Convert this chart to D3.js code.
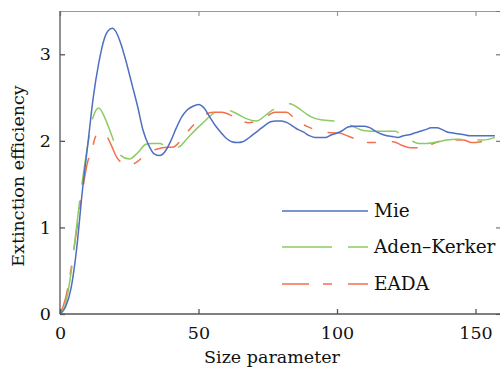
<!DOCTYPE html>
<html><head><meta charset="utf-8">
<script src="https://cdn.jsdelivr.net/npm/d3@7"></script>
<style>body{margin:0;background:#fff}svg{display:block}text{font-family:"DejaVu Serif",serif;fill:#111}</style>
</head><body><svg id="c" width="500" height="368"></svg>
<script>
const xTicks=[0,50,100,150];
const yTicks=[0,1,2,3];
const seriesNames=["Mie","Aden\u2013Kerker","EADA"];
const mieX=[0,2,4,6,8,10,12,14,16,18,19,20,22,24,26,28,30,32,34,36,38,40,42,44,46,48,50,52,54,56,58,60,62,64,66,68,70,72,74,76,78,80,82,84,86,88,90,92,94,96,98,100,102,104,106,108,110,112,114,116,118,120,122,124,126,128,130,132,134,136,138,140,142,144,146,148,150,152,154,157];
const mieY=[0,0.08,0.3,0.75,1.4,1.95,2.5,2.9,3.18,3.29,3.30,3.27,3.12,2.9,2.65,2.4,2.12,1.95,1.85,1.83,1.88,2.0,2.15,2.28,2.36,2.40,2.42,2.38,2.28,2.18,2.10,2.03,1.99,1.98,1.99,2.03,2.08,2.13,2.18,2.22,2.23,2.23,2.21,2.17,2.13,2.10,2.06,2.04,2.04,2.04,2.07,2.09,2.12,2.16,2.17,2.17,2.17,2.15,2.11,2.08,2.06,2.05,2.04,2.06,2.07,2.09,2.11,2.13,2.15,2.15,2.13,2.10,2.09,2.08,2.07,2.06,2.06,2.06,2.06,2.06];
const akX=[0,2,4,5,7,8,10,12,14,16,18,20,22,25,28,31,33,36,38,40,43,46,49,52,55,58,61,64,67,71,74,77,80,83,86,89,92,95,98.7,101,104.7,107,109.5,115,121,124,127,129.4,132.5,136.6,139.6,143,146,149,152,155,157];
const akY=[0,0.12,0.48,0.74,1.28,1.52,1.95,2.28,2.38,2.28,2.12,1.95,1.83,1.79,1.86,1.96,1.97,1.97,1.94,1.91,1.93,2.03,2.13,2.22,2.31,2.34,2.35,2.31,2.26,2.23,2.29,2.36,2.40,2.43,2.38,2.31,2.26,2.24,2.23,2.21,2.18,2.15,2.12,2.11,2.11,2.05,2.0,1.97,1.97,1.99,2.01,2.02,2.02,2.01,2.01,2.02,2.04];
const eadaX=[0,2,4,6,8,10,11.4,12.6,14,15.5,16.9,18.5,20.5,23,25.9,28.3,30,32,34.5,37,41,43.5,45.7,47.5,49.5,51.7,55.3,58.4,61.4,63.5,65.6,68,71,74,77.6,81.8,84,86.6,89,92,95,101,103.5,106,108.9,111.3,114.5,117.9,120.3,123.3,126.4,129,131.8,134.8,137.5,140.8,145.6,148.6,152,155.2,157];
const eadaY=[0,0.18,0.52,0.97,1.4,1.76,1.88,2.03,2.1,2.08,2.05,1.95,1.81,1.74,1.73,1.77,1.82,1.87,1.90,1.92,1.93,2.0,2.09,2.16,2.23,2.29,2.33,2.33,2.30,2.26,2.23,2.21,2.23,2.27,2.33,2.33,2.28,2.21,2.17,2.13,2.10,2.09,2.06,2.03,2.01,1.98,1.98,1.99,1.99,1.95,1.92,1.92,1.93,1.97,2.0,2.01,2.01,1.98,1.99,2.01,2.01];

const L=60,R=501,T=11,B=314;
const svg=d3.select("#c");
const x=d3.scaleLinear().domain([0,159.2]).range([L,R]);
const y=d3.scaleLinear().domain([0,3.5]).range([B,T]);

// frame: top and right
svg.append("g").attr("transform",`translate(0,${T})`)
  .call(d3.axisTop(x).tickValues(xTicks).tickSize(-5).tickFormat(""))
  .call(g=>g.selectAll("path,line").attr("stroke","#999").attr("stroke-width",1.2));
svg.append("g").attr("transform",`translate(${R},0)`)
  .call(d3.axisRight(y).tickValues(yTicks).tickSize(-5).tickFormat(""))
  .call(g=>g.selectAll("path,line").attr("stroke","#777").attr("stroke-width",1.2));

const series=[
 {name:seriesNames[0],xs:mieX,ys:mieY,color:"#4f6ec4",dash:null},
 {name:seriesNames[1],xs:akX,ys:akY,color:"#8ccb62",dash:"50,16"},
 {name:seriesNames[2],xs:eadaX,ys:eadaY,color:"#f2704f",dash:"27,14,9,16"}
];
const line=d3.line().x(d=>x(d[0])).y(d=>y(d[1])).curve(d3.curveMonotoneX);
series.slice().reverse().forEach(s=>{
  svg.append("path").datum(s.xs.map((v,i)=>[v,s.ys[i]]))
   .attr("d",line).attr("fill","none").attr("stroke",s.color)
   .attr("stroke-width",1.5).attr("stroke-dasharray",s.dash);
});

// axes
const xa=svg.append("g").attr("transform",`translate(0,${B})`)
  .call(d3.axisBottom(x).tickValues(xTicks).tickSize(-5).tickPadding(13).tickFormat(d3.format("d")));
const ya=svg.append("g").attr("transform",`translate(${L},0)`)
  .call(d3.axisLeft(y).tickValues(yTicks).tickSize(-5).tickPadding(9).tickFormat(d3.format("d")));
[xa,ya].forEach(g=>{
  g.selectAll("path,line").attr("stroke","#555").attr("stroke-width",1.3);
  g.selectAll("text").style("font-family","DejaVu Serif").style("font-size","17.5px").attr("fill","#111");
});
xa.select(".domain").attr("d",`M${L},0H${R}`);
ya.select(".domain").attr("d",`M0,${B}V${T}`);

svg.append("text").attr("x",272).attr("y",363).attr("text-anchor","middle")
  .style("font-size","17.5px").text("Size parameter");
svg.append("text").attr("transform","translate(24,176) rotate(-90)").attr("text-anchor","middle")
  .style("font-size","17.5px").text("Extinction efficiency");

// legend
const lg=svg.append("g");
const ly=[211,247,284];
series.forEach((s,i)=>{
  lg.append("line").attr("x1",282).attr("x2",368).attr("y1",ly[i]).attr("y2",ly[i])
    .attr("stroke",s.color).attr("stroke-width",1.5).attr("stroke-dasharray",s.dash);
  lg.append("text").attr("x",374).attr("y",ly[i]+6).style("font-size","18.5px").text(s.name);
});
</script></body></html>
